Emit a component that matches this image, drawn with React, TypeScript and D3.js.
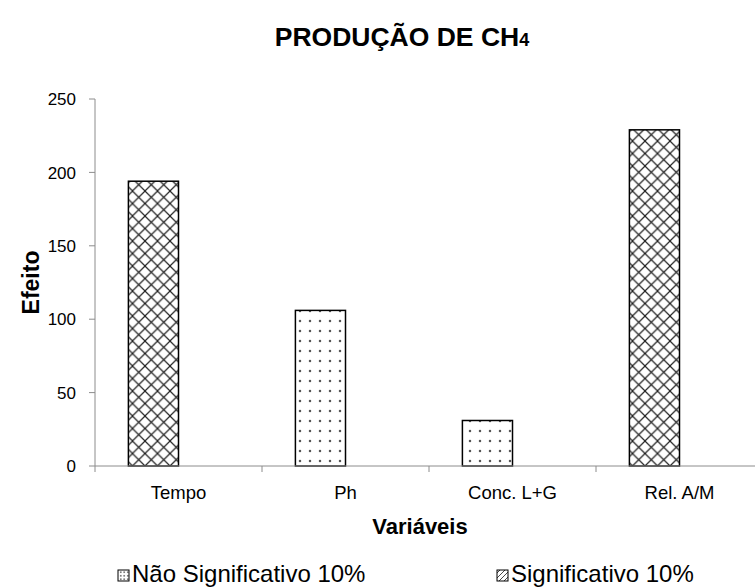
import React from "react";
import * as d3 from "d3";

// Efeito por variável, PRODUÇÃO DE CH4
const categories = ["Tempo", "Ph", "Conc. L+G", "Rel. A/M"];
const effects = [194, 106, 31, 229];
const significance = ["sig", "nsig", "nsig", "sig"];
const seriesSlots = ["efeito", "vazio"];
const yTicks = [0, 50, 100, 150, 200, 250];
const legendItems = [
  { key: "nsig", label: "Não Significativo 10%" },
  { key: "sig", label: "Significativo 10%" },
];

const W = 755;
const H = 587;
const FONT = "'Liberation Sans', Arial, Helvetica, sans-serif";

export default function App() {
  const x0 = 95;
  const plotTop = 99;
  const plotBottom = 466;

  const x = d3
    .scaleBand<string>()
    .domain(categories)
    .range([x0, 763])
    .paddingInner(0.4)
    .paddingOuter(0.2);
  const xSub = d3.scaleBand<string>().domain(seriesSlots).range([0, x.bandwidth()]);
  const y = d3.scaleLinear().domain([0, 250]).range([plotBottom, plotTop]);

  const step = x.step();
  const catStart = (c: string) => (x(c) as number) - step * 0.2;
  const catEdges = categories.map(catStart).concat([catStart(categories[3]) + step]);

  const fillFor = (k: string) => (k === "sig" ? "url(#cross)" : "url(#dots)");
  const legendFill = (k: string) => (k === "sig" ? "url(#crossSmall)" : "url(#dotsSmall)");
  const legendX = [118, 497];

  return (
    <svg width={W} height={H} style={{ position: "absolute", left: 0, top: 0 }}>
      <defs>
        <pattern id="cross" patternUnits="userSpaceOnUse" width={12.5} height={12.5} x={x0} y={plotBottom}>
          <rect width={12.5} height={12.5} fill="#fff" />
          <path d="M0,0 L12.5,12.5 M12.5,0 L0,12.5" stroke="#222" strokeWidth={1.2} />
        </pattern>
        <pattern id="dots" patternUnits="userSpaceOnUse" width={10} height={10} x={x0} y={plotBottom}>
          <rect width={10} height={10} fill="#fff" />
          <circle cx={5} cy={5} r={1.25} fill="#555" />
        </pattern>
        <pattern id="crossSmall" patternUnits="userSpaceOnUse" width={5} height={5}>
          <rect width={5} height={5} fill="#fff" />
          <path d="M0,5 L5,0" stroke="#333" strokeWidth={0.9} />
        </pattern>
        <pattern id="dotsSmall" patternUnits="userSpaceOnUse" width={3.5} height={3.5}>
          <rect width={3.5} height={3.5} fill="#fff" />
          <circle cx={1.75} cy={1.75} r={0.8} fill="#444" />
        </pattern>
      </defs>
      <rect width={W} height={H} fill="#fff" />

      {/* Título */}
      <text
        x={402}
        y={46}
        textAnchor="middle"
        fontFamily={FONT}
        fontWeight="bold"
        fontSize={26.5}
        fill="#000"
      >
        PRODUÇÃO DE CH<tspan fontSize={18}>4</tspan>
      </text>

      {/* Eixo Y */}
      <line x1={x0} x2={x0} y1={plotTop} y2={plotBottom} stroke="#8c8c8c" strokeWidth={1} />
      {yTicks.map((t) => (
        <g key={t}>
          <line x1={x0 - 6} x2={x0} y1={y(t)} y2={y(t)} stroke="#8c8c8c" strokeWidth={1} />
          <text
            x={x0 - 19}
            y={y(t)}
            dy="0.36em"
            textAnchor="end"
            fontFamily={FONT}
            fontSize={17}
            fill="#000"
          >
            {t}
          </text>
        </g>
      ))}
      <text
        transform={`translate(39,${(plotTop + plotBottom) / 2}) rotate(-90)`}
        textAnchor="middle"
        fontFamily={FONT}
        fontWeight="bold"
        fontSize={23}
        fill="#000"
      >
        Efeito
      </text>

      {/* Barras */}
      {categories.map((c, i) => {
        const bx = (x(c) as number) + (xSub("efeito") as number);
        return (
          <rect
            key={c}
            x={bx}
            y={y(effects[i])}
            width={xSub.bandwidth()}
            height={plotBottom - y(effects[i])}
            fill={fillFor(significance[i])}
            stroke="#000"
            strokeWidth={1.5}
          />
        );
      })}

      {/* Eixo X */}
      <line x1={x0} x2={W} y1={plotBottom} y2={plotBottom} stroke="#8c8c8c" strokeWidth={1} />
      {catEdges.map((e, i) => (
        <line key={i} x1={e} x2={e} y1={plotBottom} y2={plotBottom + 6} stroke="#8c8c8c" strokeWidth={1} />
      ))}
      {categories.map((c) => (
        <text
          key={c}
          x={catStart(c) + step / 2}
          y={499}
          textAnchor="middle"
          fontFamily={FONT}
          fontSize={18.5}
          fill="#000"
        >
          {c}
        </text>
      ))}
      <text
        x={420}
        y={534}
        textAnchor="middle"
        fontFamily={FONT}
        fontWeight="bold"
        fontSize={22}
        fill="#000"
      >
        Variáveis
      </text>

      {/* Legenda */}
      {legendItems.map((item, i) => {
        const lx = legendX[i];
        return (
          <g key={item.key}>
            <rect
              x={lx}
              y={570}
              width={11}
              height={11}
              fill={legendFill(item.key)}
              stroke="#000"
              strokeWidth={1}
            />
            <text x={lx + 14} y={582} fontFamily={FONT} fontSize={24} fill="#000">
              {item.label}
            </text>
          </g>
        );
      })}
    </svg>
  );
}
